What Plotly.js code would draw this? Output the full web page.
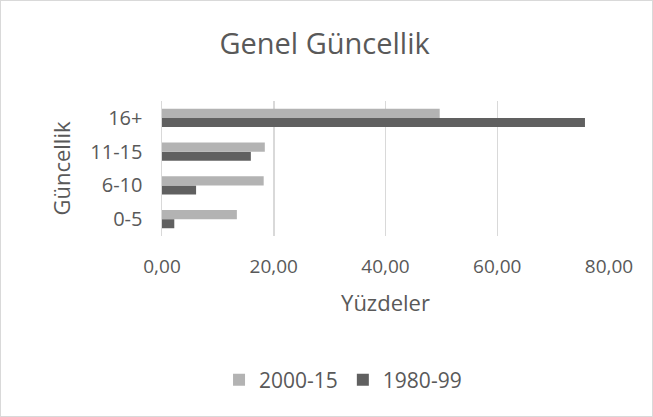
<!DOCTYPE html>
<html><head><meta charset="utf-8">
<script src="https://cdn.plot.ly/plotly-3.0.1.min.js"></script>
<style>html,body{margin:0;padding:0;background:#fff}#c{width:651px;height:415px;border:1px solid #d9d9d9}</style>
</head><body><div id="c"></div>
<script>
const categories = ['0-5','6-10','11-15','16+'];
const series2000_15 = [13.4, 18.2, 18.4, 49.7];
const series1980_99 = [2.2, 6.1, 15.9, 75.7];
const xTicks = [0,20,40,60,80];
const font = 'Open Sans, Liberation Sans, sans-serif';
const txt = '#595959';
const data = [
  {type:'bar', orientation:'h', name:'1980-99', y:categories, x:series1980_99, marker:{color:'#606060'}},
  {type:'bar', orientation:'h', name:'2000-15', y:categories, x:series2000_15, marker:{color:'#b3b3b3'}}
];
const layout = {
  width:651, height:415,
  margin:{l:161, r:43, t:100, b:180},
  separators:',.',
  paper_bgcolor:'#fff', plot_bgcolor:'#fff',
  font:{family:font, color:txt, size:18},
  title:{text:'Genel Güncellik', x:0.497, xanchor:'center', y:0.896, yanchor:'middle', font:{size:29, color:txt, family:font}},
  barmode:'group', bargap:0.46, bargroupgap:0,
  xaxis:{range:[0,80], tickvals:xTicks, tickformat:'.2f', showgrid:true, gridcolor:'#d9d9d9', gridwidth:1.5,
    zeroline:false, showline:false, ticks:'outside', ticklen:13, tickcolor:'rgba(0,0,0,0)',
    tickfont:{size:19, color:txt}, title:{text:'Yüzdeler', font:{size:22, color:txt}, standoff:17}, fixedrange:true},
  yaxis:{type:'category', categoryorder:'array', categoryarray:categories, showgrid:false, zeroline:false,
    showline:true, linecolor:'#d9d9d9', linewidth:1.5, ticks:'outside', ticklen:14, tickcolor:'rgba(0,0,0,0)',
    tickfont:{size:20, color:txt}, title:{text:'Güncellik', font:{size:22, color:txt}, standoff:13}},
  legend:{orientation:'h', x:0.405, xanchor:'center', y:-1.067, yanchor:'middle', traceorder:'reversed',
    font:{size:21, color:txt}, itemwidth:30},
  showlegend:true
};
Plotly.newPlot('c', data, layout, {displayModeBar:false, staticPlot:true});
</script></body></html>
